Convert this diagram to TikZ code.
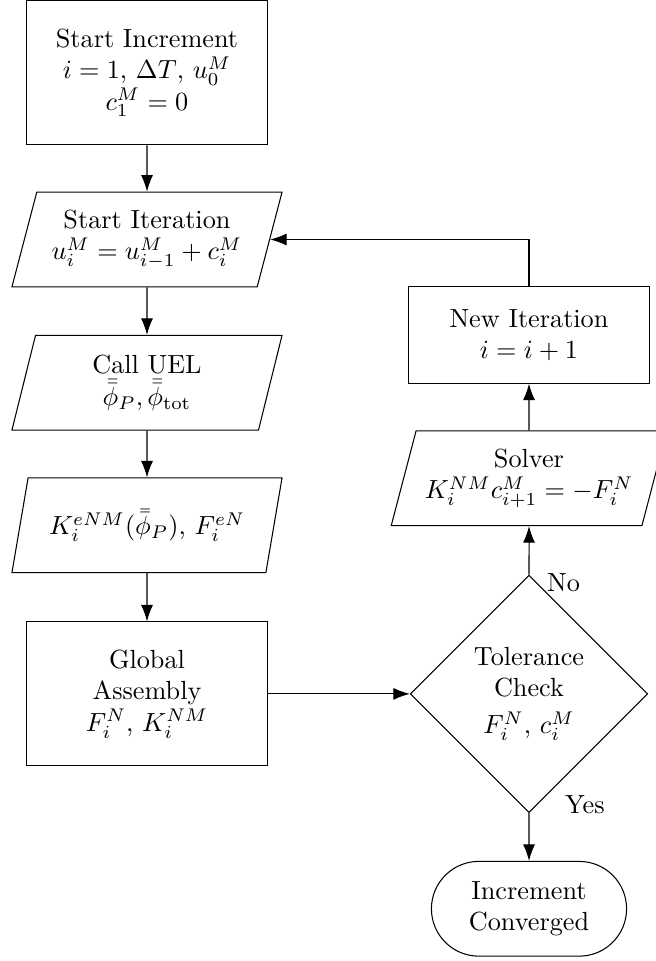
\documentclass[tikz,border=0pt]{standalone}
\usepackage{amsmath,amssymb}
\usepackage{tikz}
\usetikzlibrary{arrows.meta, positioning}
\usetikzlibrary{shapes.geometric, shapes.misc}

\begin{document}
\begin{tikzpicture}[
    >={Latex[length=2.2mm, width=1.6mm]},
    procbox/.style={
        rectangle,
        draw=black,
        minimum width=3.22cm,
        minimum height=1.93cm,
        align=center
    },
    iobox/.style={
        trapezium,
        trapezium left angle=72,
        trapezium right angle=108,
        trapezium stretches body,
        draw=black,
        minimum width=3.62cm,
        minimum height=1.27cm,
        align=center
    },
    decision/.style={
        diamond,
        aspect=1,
        draw=black,
        minimum width=3.18cm,
        minimum height=3.18cm,
        inner sep=1pt,
        align=center
    },
    terminal/.style={
        rounded rectangle,
        draw=black,
        minimum width=2.85cm,
        minimum height=1.27cm,
        align=center
    },
    flow/.style={
        ->,
        black
    }
]

\useasboundingbox (0,0) rectangle (8.78,-12.88);

% =============== COLUNA ESQUERDA ===============

\node[procbox] (start) at (1.97, -0.975) {Start Increment\\ $i=1$, $\Delta T$, $u_0^M$\\ $c_1^M=0$};
\node[iobox] (iter)  at (1.97, -3.21) {Start Iteration\\ $u_i^M=u_{i-1}^M+c_i^M$};
\node[iobox] (uel)   at (1.97, -5.13) {Call UEL\\ $\bar{\bar{\phi}}_P, \bar{\bar{\phi}}_{\mathrm{tot}}$};
\node[iobox] (kmat)  at (1.97, -7.04) {$K_i^{eNM}(\bar{\bar{\phi}}_P)$, $F_i^{eN}$};
\node[procbox] (assem) at (1.97, -9.30) {Global\\ Assembly\\ $F_i^N$, $K_i^{NM}$};

% =============== COLUNA DIREITA ===============

\node[decision] (check) at (7.09, -9.30) {Tolerance\\ Check\\[2pt] $F_i^N$, $c_i^M$};
\node[iobox] (solver) at (7.09, -6.41) {Solver\\ $K_i^{NM}c_{i+1}^M=-F_i^N$};
\node[procbox, minimum height=1.29cm] (newit) at (7.09, -4.49) {New Iteration\\ $i=i+1$};
\node[terminal] (conv) at (7.09, -12.18) {Increment\\ Converged};

% rótulos da decisão
\node[anchor=west] (lblno)  at ([xshift=0.12cm, yshift=-0.11cm]check.north) {No};
\node[anchor=west] (lblyes) at ([xshift=0.36cm, yshift=0.11cm]check.south) {Yes};

% =============== LIGAÇÕES ===============

\draw[flow] (start) -- (iter);
\draw[flow] (iter) -- (uel);
\draw[flow] (uel) -- (kmat);
\draw[flow] (kmat) -- (assem);
\draw[flow] (assem) -- (check);
\draw[flow] (check) -- (solver);
\draw[flow] (solver) -- (newit);
\draw[flow] (newit.north) |- (iter.east);
\draw[flow] (check) -- (conv);

\end{tikzpicture}
\end{document}
